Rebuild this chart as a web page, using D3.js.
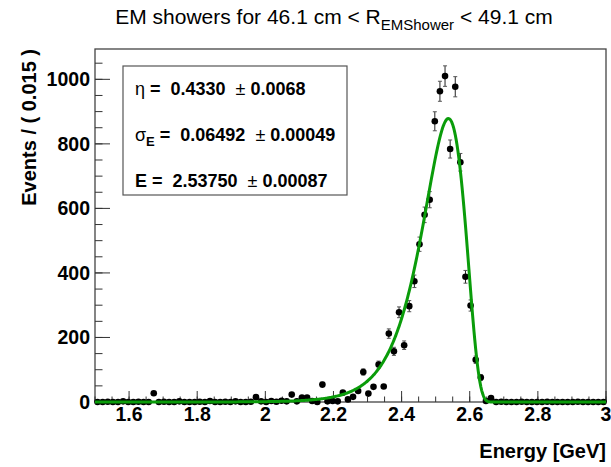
<!DOCTYPE html>
<html>
<head>
<meta charset="utf-8">
<script src="https://cdn.jsdelivr.net/npm/d3@7"></script>
<style>
  body { margin: 0; background: #fff; }
  text { font-family: "Liberation Sans", Arial, Helvetica, sans-serif; }
</style>
</head>
<body>
<div id="chart-area"></div>
<script>
// histogram: 100 bins of 0.015 GeV from 1.5 to 3
var binLo = 1.5, binWidth = 0.015;
var counts = [
  0, 0, 1, 0, 0, 2, 0, 0, 1, 0, 0,
  27,
  0, 1, 0, 0, 2, 0, 0, 0, 1, 0, 3, 0, 0, 1, 0, 2, 0, 0, 1,
  15,
  2, 0, 3, 1, 4, 2,
  23, 2, 14, 14, 3, 0, 54, 2, 3, 2, 29, 8, 16, 34, 93, 26, 47, 116, 48,
  212, 157, 278, 176, 297, 374, 489, 580, 627, 870, 963, 1010, 784, 977,
  743, 388, 299, 131, 76, 3, 12,
  0, 1, 0, 0, 0, 1, 0, 0, 0, 0, 1, 0, 0, 0, 0, 0, 1, 0, 0, 0, 0, 0
];

// Novosibirsk fit result
var fitEta = 0.4330, fitSigma = 0.06492, fitPeak = 2.53750, fitNorm = 958;
var paramNames = ["η", "σ", "E"];
var paramSubs = ["", "E", ""];
var paramVals = ["0.4330", "0.06492", "2.53750"];
var paramErrs = ["0.0068", "0.00049", "0.00087"];

var xTicks = [1.6, 1.8, 2, 2.2, 2.4, 2.6, 2.8, 3];
var yTicks = [0, 200, 400, 600, 800, 1000];

var W = 611, H = 467;
var fL = 95, fR = 606, fT = 49, fB = 402;

var svg = d3.select("#chart-area").append("svg")
            .attr("width", W)
            .attr("height", H);

var x = d3.scaleLinear().domain([1.5, 3]).range([fL, fR]);
var y = d3.scaleLinear().domain([0, 1094]).range([fB, fT]);

var data = counts.map((c, i) => { return {x: binLo + binWidth * (i + 0.5), n: c}; });

// frame
svg.append("rect")
   .attr("x", fL).attr("y", fT)
   .attr("width", fR - fL).attr("height", fB - fT)
   .attr("fill", "none").attr("stroke", "#444").attr("stroke-width", 1.3);

// x ticks (inside, pointing up)
var xMinor = d3.range(1.5, 3.0001, 0.05);
svg.selectAll(".xminor").data(xMinor).enter().append("line")
   .attr("x1", d => x(d)).attr("x2", d => x(d))
   .attr("y1", fB).attr("y2", fB - 5.5)
   .attr("stroke", "#333").attr("stroke-width", 1);
svg.selectAll(".xmajor").data(xTicks).enter().append("line")
   .attr("x1", d => x(d)).attr("x2", d => x(d))
   .attr("y1", fB).attr("y2", fB - 11)
   .attr("stroke", "#333").attr("stroke-width", 1);
svg.selectAll(".xlab").data(xTicks).enter().append("text")
   .attr("x", d => x(d)).attr("y", 421)
   .attr("text-anchor", "middle")
   .attr("font-size", 19.5).attr("font-weight", "bold")
   .text(d => d3.format("")(d));

// y ticks
var yMinor = d3.range(0, 1051, 50);
svg.selectAll(".yminor").data(yMinor).enter().append("line")
   .attr("x1", fL).attr("x2", fL + 7.5)
   .attr("y1", d => y(d)).attr("y2", d => y(d))
   .attr("stroke", "#333").attr("stroke-width", 1);
svg.selectAll(".ymajor").data(yTicks).enter().append("line")
   .attr("x1", fL).attr("x2", fL + 15)
   .attr("y1", d => y(d)).attr("y2", d => y(d))
   .attr("stroke", "#333").attr("stroke-width", 1);
svg.selectAll(".ylab").data(yTicks).enter().append("text")
   .attr("x", 90).attr("y", d => y(d) + 7)
   .attr("text-anchor", "end")
   .attr("font-size", 19.5).attr("font-weight", "bold")
   .text(d => d);

// axis titles
svg.append("text")
   .attr("x", 606).attr("y", 458)
   .attr("text-anchor", "end")
   .attr("font-size", 20).attr("font-weight", "bold")
   .text("Energy [GeV]");
svg.append("text")
   .attr("transform", "translate(36," + fT + ") rotate(-90)")
   .attr("text-anchor", "end")
   .attr("font-size", 20).attr("font-weight", "bold")
   .text("Events / ( 0.015 )");

// title
var title = svg.append("text")
   .attr("x", 334).attr("y", 24)
   .attr("text-anchor", "middle")
   .attr("font-size", 21);
title.append("tspan").text("EM showers for 46.1 cm < R");
title.append("tspan").attr("font-size", 15).attr("dy", 6).text("EMShower");
title.append("tspan").attr("dy", -6).text(" < 49.1 cm");

// error bars
var withErr = data.filter(d => d.n > 0);
svg.selectAll(".err").data(withErr).enter().append("line")
   .attr("x1", d => x(d.x)).attr("x2", d => x(d.x))
   .attr("y1", d => y(d.n - Math.sqrt(d.n))).attr("y2", d => y(d.n + Math.sqrt(d.n)))
   .attr("stroke", "#222").attr("stroke-width", 1);
svg.selectAll(".capt").data(withErr.filter(d => d.n > 50)).enter().append("line")
   .attr("x1", d => x(d.x) - 2).attr("x2", d => x(d.x) + 2)
   .attr("y1", d => y(d.n + Math.sqrt(d.n))).attr("y2", d => y(d.n + Math.sqrt(d.n)))
   .attr("stroke", "#555").attr("stroke-width", 1);
svg.selectAll(".capb").data(withErr.filter(d => d.n > 50)).enter().append("line")
   .attr("x1", d => x(d.x) - 2).attr("x2", d => x(d.x) + 2)
   .attr("y1", d => y(d.n - Math.sqrt(d.n))).attr("y2", d => y(d.n - Math.sqrt(d.n)))
   .attr("stroke", "#555").attr("stroke-width", 1);

// markers
svg.selectAll(".pt").data(data).enter().append("circle")
   .attr("cx", d => x(d.x)).attr("cy", d => y(d.n))
   .attr("r", 3.3).attr("fill", "#000");

// fit curve (Novosibirsk with the fitted parameters)
function novosibirsk(e) {
  var arg = 1 - (e - fitPeak) * fitEta / fitSigma;
  if (arg < 1e-7) return 0;
  var lg = Math.log(arg);
  var xi = 2 * Math.sqrt(Math.log(4));
  var w0 = (2 / xi) * Math.asinh(fitEta * xi * 0.5);
  var w02 = w0 * w0;
  return fitNorm * Math.exp(-0.5 / w02 * lg * lg - w02 * 0.5);
}
var curveX = d3.range(1.5, 3.0001, 0.0025);
var line = d3.line().x(d => x(d)).y(d => y(novosibirsk(d)));
svg.append("path")
   .datum(curveX)
   .attr("d", line)
   .attr("fill", "none")
   .attr("stroke", "#0a9c0a")
   .attr("stroke-width", 3);

// parameter box
svg.append("rect")
   .attr("x", 123).attr("y", 66).attr("width", 224).attr("height", 129)
   .attr("fill", "#fff").attr("stroke", "#555").attr("stroke-width", 1.2);
paramNames.forEach((nm, i) => {
  var t = svg.append("text")
     .attr("x", 135).attr("y", 95 + i * 46)
     .attr("font-size", 18).attr("font-weight", "bold");
  t.append("tspan").attr("font-weight", nm === "E" ? "bold" : "normal").text(nm);
  if (paramSubs[i]) {
    t.append("tspan").attr("font-size", 13).attr("dy", 5).text(paramSubs[i]);
    t.append("tspan").attr("dy", -5).text(" =");
  } else {
    t.append("tspan").text(" =");
  }
  t.append("tspan").attr("dx", 5).text(" " + paramVals[i]);
  t.append("tspan").attr("dx", 10).attr("font-weight", "normal").text("±");
  t.append("tspan").text(" " + paramErrs[i]);
});
</script>
</body>
</html>
